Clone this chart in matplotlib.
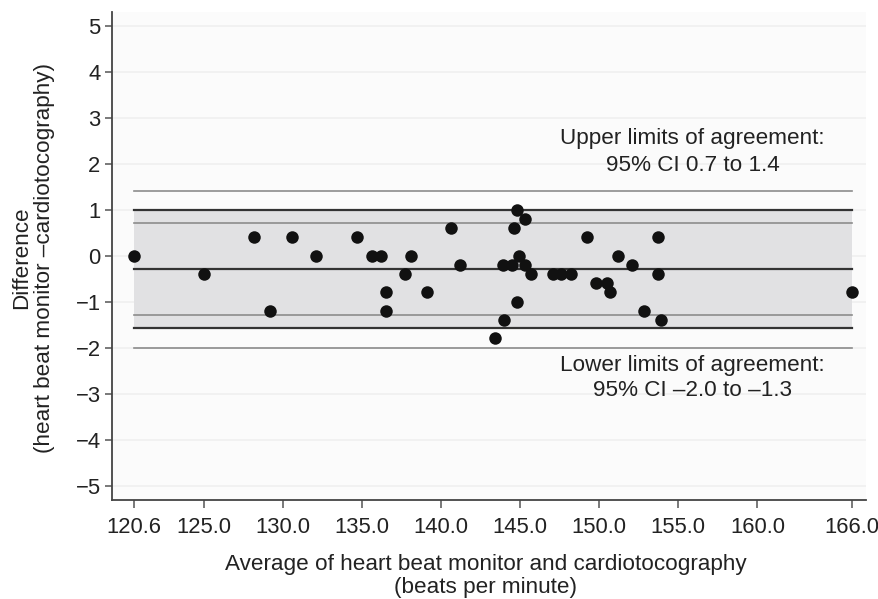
import matplotlib
matplotlib.use("Agg")
import matplotlib.pyplot as plt

plt.rcParams['font.family'] = ['Liberation Sans', 'DejaVu Sans']

# Data (average bpm, difference bpm)
avg = [120.6, 125.0, 128.2, 129.2, 130.6, 132.1, 134.7, 135.6, 136.2, 136.5, 136.5,
       137.7, 138.1, 139.1, 140.6, 141.2, 143.4, 144.0, 143.9, 144.5, 144.6, 144.8,
       145.3, 144.9, 145.3, 144.8, 145.7, 147.1, 147.6, 148.2, 149.2, 149.8, 150.5,
       150.7, 151.2, 152.1, 152.8, 153.7, 153.7, 153.9, 166.0]
diff = [0.0, -0.4, 0.4, -1.2, 0.4, 0.0, 0.4, 0.0, 0.0, -0.8, -1.2,
        -0.4, 0.0, -0.8, 0.6, -0.2, -1.8, -1.4, -0.2, -0.2, 0.6, 1.0,
        0.8, 0.0, -0.2, -1.0, -0.4, -0.4, -0.4, -0.4, 0.4, -0.6, -0.6,
        -0.8, 0.0, -0.2, -1.2, 0.4, -0.4, -1.4, -0.8]

mean_diff = -0.3
upper_loa = 0.98
lower_loa = -1.57
upper_ci = [0.7, 1.4]
lower_ci = [-2.0, -1.3]

x_range = [120.6, 166.0]
xticks = [120.6, 125.0, 130.0, 135.0, 140.0, 145.0, 150.0, 155.0, 160.0, 166.0]
yticks = [5, 4, 3, 2, 1, 0, -1, -2, -3, -4, -5]

FS = 16.2
TFS = 15.8
W, H = 879, 599
fig = plt.figure(figsize=(W / 100, H / 100), dpi=100)
ax = fig.add_axes([111.7 / W, 1 - 500.3 / H, (865.7 - 111.7) / W, (500.3 - 11.7) / H])
ax.set_facecolor('#fbfbfb')

ax.set_xlim(119.17, 166.85)
ax.set_ylim(-5.32, 5.30)

# faint grid
for yv in yticks:
    ax.axhline(yv, color='#f0f0f0', lw=1.2, zorder=0)

# band between limits of agreement
ax.fill_between(x_range, [lower_loa] * 2, [upper_loa] * 2, color='#e1e1e3', zorder=1, lw=0)

# CI lines (light)
for yv in upper_ci + lower_ci:
    ax.plot(x_range, [yv, yv], color='#8c8c8c', lw=1.2, zorder=2)
# LoA and mean (dark)
for yv in [upper_loa, lower_loa, mean_diff]:
    ax.plot(x_range, [yv, yv], color='#333333', lw=1.6, zorder=2)

ax.plot(avg, diff, 'o', color='#111111', markersize=9.0, markeredgewidth=0, zorder=3)

# axes style
for s in ['top', 'right']:
    ax.spines[s].set_visible(False)
for s in ['left', 'bottom']:
    ax.spines[s].set_color('#444444')
    ax.spines[s].set_linewidth(1.3)

ax.set_xticks(xticks)
ax.set_xticklabels([f"{v:.1f}" for v in xticks])
ax.set_yticks(yticks)
ax.set_yticklabels([str(v).replace('-', '\u2212') for v in yticks])
ax.tick_params(axis='x', length=6, width=1.1, color='#555555', labelsize=TFS,
               labelcolor='#222222', pad=6)
ax.tick_params(axis='y', length=5, width=1.1, color='#555555', labelsize=TFS,
               labelcolor='#222222', pad=3)

# annotations
tx = 155.9
ax.text(tx, 2.42, "Upper limits of agreement:", ha='center', va='baseline',
        fontsize=FS, color='#222222')
ax.text(tx, 1.83, "95% CI 0.7 to 1.4", ha='center', va='baseline',
        fontsize=FS, color='#222222')
ax.text(tx, -2.50, "Lower limits of agreement:", ha='center', va='baseline',
        fontsize=FS, color='#222222')
ax.text(tx, -3.05, "95% CI \u20132.0 to \u20131.3", ha='center', va='baseline',
        fontsize=FS, color='#222222')

# axis labels
fig.text(486 / W, 1 - 576 / H,
         "Average of heart beat monitor and cardiotocography\n(beats per minute)",
         ha='center', va='center', fontsize=FS, color='#222222', linespacing=1.12)
fig.text(33 / W, 1 - 258 / H,
         "Difference\n(heart beat monitor \u2013cardiotocography)",
         ha='center', va='center', rotation=90, fontsize=FS, color='#222222',
         linespacing=1.12)

fig.savefig("out.png", dpi=100)
